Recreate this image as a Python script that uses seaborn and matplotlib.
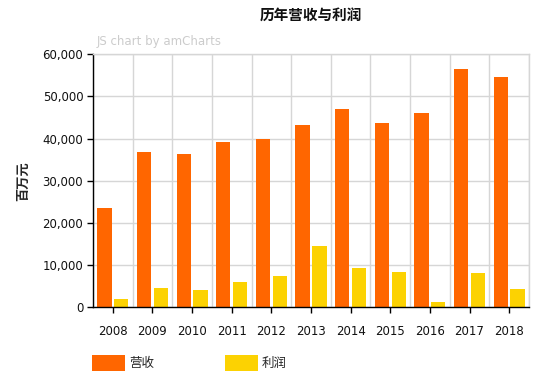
import numpy as np
import pandas as pd
import matplotlib
matplotlib.use("Agg")
import matplotlib.pyplot as plt
import seaborn as sns

# chart data
years = ["2008", "2009", "2010", "2011", "2012", "2013", "2014", "2015", "2016", "2017", "2018"]
revenue = [23500, 36800, 36300, 39100, 39800, 43200, 47000, 43700, 46100, 56500, 54600]
profit = [1900, 4500, 4000, 5900, 7350, 14500, 9250, 8300, 1200, 8100, 4300]
series_names = ["营收", "利润"]
colors = ["#FF6600", "#FCD202"]

sns.set_style("white")
plt.rcParams["font.family"] = ["DejaVu Sans", "Noto Sans CJK SC"]

df = pd.DataFrame({
    "year": years * 2,
    "value": revenue + profit,
    "series": [series_names[0]] * len(years) + [series_names[1]] * len(years),
})

fig = plt.figure(figsize=(5.54, 3.80), dpi=100)
ax = fig.add_axes([93 / 554, 1 - 307 / 380, (529 - 93) / 554, (307 - 54.3) / 380])

sns.barplot(data=df, x="year", y="value", hue="series", palette=colors,
            width=0.85, gap=0.15, saturation=1, linewidth=0, edgecolor="none",
            ax=ax, legend=True)

ax.set_ylim(0, 60000)
ax.set_xlim(-0.5, len(years) - 0.5)
ax.set_yticks(np.arange(0, 60001, 10000))
ax.set_yticklabels([f"{v:,}" for v in range(0, 60001, 10000)])
ax.set_xticks(np.arange(len(years)))
ax.set_xticks(np.arange(len(years) + 1) - 0.5, minor=True)

ax.grid(False)
ax.yaxis.grid(True, color="#d6d6d6", lw=1)
ax.xaxis.grid(True, which="minor", color="#d6d6d6", lw=1)
ax.set_axisbelow(True)

for side in ["top", "right"]:
    ax.spines[side].set_color("#d6d6d6")
    ax.spines[side].set_linewidth(1)
for side in ["left", "bottom"]:
    ax.spines[side].set_color("black")
    ax.spines[side].set_linewidth(1)

ax.tick_params(axis="both", which="major", direction="out", length=4, width=1,
               color="black", labelsize=8.5, labelcolor="#111111", bottom=True, left=True)
ax.tick_params(axis="x", which="major", pad=9)
ax.tick_params(axis="y", which="major", pad=3)
ax.tick_params(axis="x", which="minor", length=0)

ax.set_xlabel("")
ax.set_ylabel("百万元", fontsize=9.5, fontweight="bold", labelpad=9)

# title and watermark
fig.text(311 / 554, 1 - 16 / 380, "历年营收与利润", ha="center", va="center",
         fontsize=10.5, fontweight="bold", color="#111111")
fig.text(97 / 554, 1 - 42 / 380, "JS chart by amCharts", ha="left", va="center",
         fontsize=8.5, color="#cccccc")

# legend below the chart
handles, labels = ax.get_legend_handles_labels()
ax.get_legend().remove()
fig.legend(handles, labels, loc="center left", bbox_to_anchor=(92 / 554, 1 - 363 / 380),
           ncol=2, frameon=False, fontsize=9, handlelength=2.6, handleheight=1.7,
           handletextpad=0.35, columnspacing=5.7, borderpad=0, borderaxespad=0)

fig.savefig("out.png", dpi=100)
